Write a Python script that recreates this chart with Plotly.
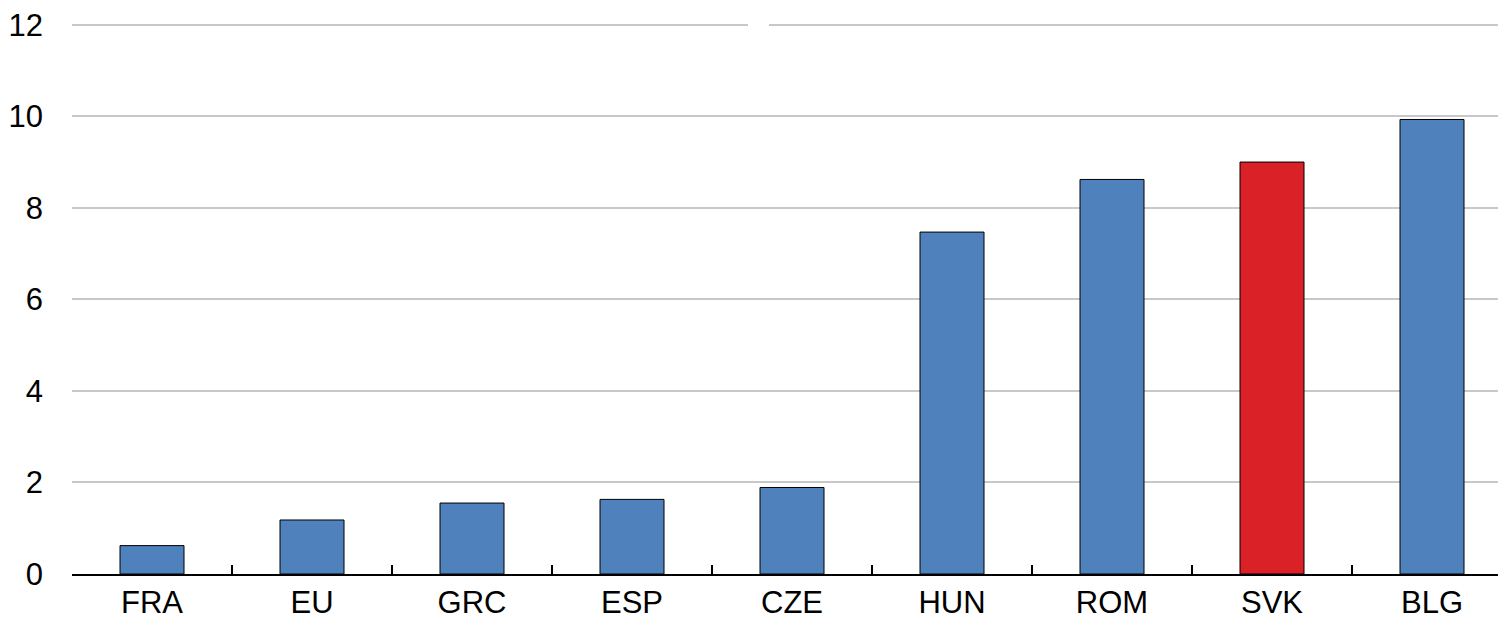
import plotly.graph_objects as go

# Chart data
countries = ["FRA", "EU", "GRC", "ESP", "CZE", "HUN", "ROM", "SVK", "BLG"]
values = [0.62, 1.18, 1.55, 1.63, 1.89, 7.47, 8.62, 9.0, 9.93]
highlight = "SVK"

blue = "#4f81bd"
red = "#da2128"
colors = [red if c == highlight else blue for c in countries]

fig = go.Figure(go.Bar(
    x=countries,
    y=values,
    marker=dict(color=colors, line=dict(color="black", width=1)),
    width=0.4,
))

# page body has an 8px margin, so the figure is made 8px smaller on each side
fig.update_layout(
    width=1498, height=612,
    margin=dict(l=64, r=0, t=0, b=44),
    plot_bgcolor="white", paper_bgcolor="white",
    font=dict(family="Liberation Sans, Arial, sans-serif", size=31, color="black"),
    showlegend=False,
    # blank box that interrupts the top gridline in the original
    shapes=[dict(type="rect", xref="paper", yref="y",
                 x0=(748 - 72) / 1434, x1=(769 - 72) / 1434, y0=11.8, y1=12.2,
                 fillcolor="white", line=dict(width=0), layer="above")],
)

fig.update_xaxes(
    range=[-0.5, -0.5 + 1434 / 160],
    showline=True, linecolor="black", linewidth=2,
    ticks="inside", tickson="boundaries", ticklen=9, tickwidth=1.5, tickcolor="black",
    showgrid=False, zeroline=False,
)
fig.update_yaxes(
    range=[0, 12.3], tickvals=[0, 2, 4, 6, 8, 10, 12],
    showgrid=True, gridcolor="#c8c8c8", gridwidth=1.5,
    zeroline=False, showline=False, ticks="",
    ticklabelstandoff=28, ticklabeloverflow="allow",
)

fig.write_html("out.html")
